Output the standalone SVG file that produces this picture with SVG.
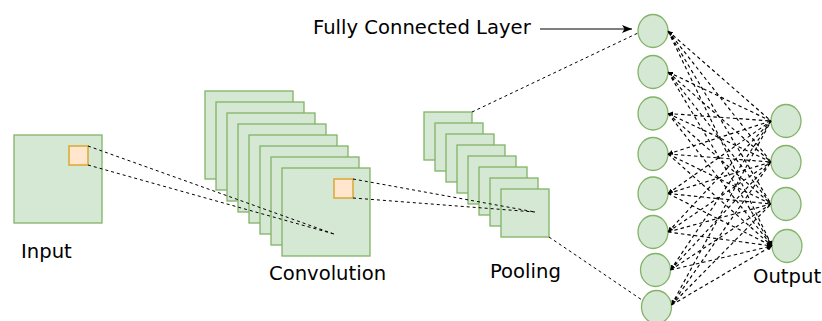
<svg xmlns="http://www.w3.org/2000/svg" width="822" height="321" viewBox="0 0 822 321">
<style>
.g{fill:#d5e8d4;stroke:#82b366;stroke-width:1.3}
.o{fill:#ffe6cc;stroke:#dca634;stroke-width:1.5}
.t{font-family:"DejaVu Sans",Verdana,sans-serif;font-size:19.6px;fill:#000}
.d{stroke:#000;stroke-width:1;stroke-dasharray:3 3;fill:none}
.e{stroke:#000;stroke-width:1.15;stroke-dasharray:3.5 3;fill:none;marker-start:url(#s);marker-end:url(#s)}
</style>
<defs>
<marker id="s" viewBox="0 0 6 6" refX="6" refY="3" markerWidth="5" markerHeight="5" orient="auto-start-reverse" markerUnits="userSpaceOnUse"><path d="M0,0L6,3L0,6z" fill="#000"/></marker>
<marker id="a" viewBox="0 0 10 8" refX="10" refY="4" markerWidth="10" markerHeight="8" orient="auto" markerUnits="userSpaceOnUse"><path d="M0,0L10,4L0,8L2.5,4z" fill="#000"/></marker>
</defs>
<g id="input"><rect class="g" x="14" y="135" width="88" height="88"/><rect class="o" x="69" y="146" width="19" height="19"/></g>
<g id="conv">
<rect class="g" x="205" y="91" width="88" height="88"/>
<rect class="g" x="216" y="102" width="88" height="88"/>
<rect class="g" x="227" y="113" width="88" height="88"/>
<rect class="g" x="238" y="124" width="88" height="88"/>
<rect class="g" x="249" y="135" width="88" height="88"/>
<rect class="g" x="260" y="146" width="88" height="88"/>
<rect class="g" x="271" y="157" width="88" height="88"/>
<rect class="g" x="282" y="168" width="88" height="88"/>
<rect class="o" x="334" y="179" width="19" height="19"/>
</g>
<g id="pool">
<rect class="g" x="424" y="112" width="48" height="48"/>
<rect class="g" x="435" y="123" width="48" height="48"/>
<rect class="g" x="446" y="134" width="48" height="48"/>
<rect class="g" x="457" y="145" width="48" height="48"/>
<rect class="g" x="468" y="156" width="48" height="48"/>
<rect class="g" x="479" y="167" width="48" height="48"/>
<rect class="g" x="490" y="178" width="48" height="48"/>
<rect class="g" x="501" y="189" width="48" height="48"/>
</g>
<g id="fc">
<ellipse class="g" cx="653" cy="31" rx="15" ry="16.5"/>
<ellipse class="g" cx="653" cy="72" rx="15" ry="16.5"/>
<ellipse class="g" cx="653" cy="113.5" rx="15" ry="16.5"/>
<ellipse class="g" cx="653" cy="154" rx="15" ry="16.5"/>
<ellipse class="g" cx="653" cy="193.5" rx="15" ry="16.5"/>
<ellipse class="g" cx="653" cy="232" rx="15" ry="16.5"/>
<ellipse class="g" cx="655.5" cy="270" rx="15" ry="16.5"/>
<ellipse class="g" cx="656.5" cy="307" rx="15" ry="16.5"/>
</g>
<g id="out">
<ellipse class="g" cx="786" cy="121" rx="15" ry="16.5"/>
<ellipse class="g" cx="786" cy="162" rx="15" ry="16.5"/>
<ellipse class="g" cx="786" cy="204" rx="15" ry="16.5"/>
<ellipse class="g" cx="787" cy="246" rx="15" ry="16.5"/>
</g>
<g id="labels">
<text class="t" x="21" y="258">Input</text>
<text class="t" x="269" y="280">Convolution</text>
<text class="t" x="490" y="278">Pooling</text>
<text class="t" x="753" y="283">Output</text>
<text class="t" x="313" y="34">Fully Connected Layer</text>
</g>
<g id="connectors">
<line class="d" x1="88" y1="146" x2="334" y2="234"/>
<line class="d" x1="88" y1="165" x2="334" y2="234"/>
<line class="d" x1="353" y1="179" x2="535" y2="212"/>
<line class="d" x1="353" y1="198" x2="535" y2="212"/>
<line class="d" x1="472" y1="112" x2="638" y2="33"/>
<line class="d" x1="549" y1="237" x2="642" y2="300"/>
<line x1="540" y1="29" x2="632" y2="29" stroke="#000" stroke-width="1.2" marker-end="url(#a)"/>
<path class="e" d="M668,31L771,121M668,31L771,162M668,31L771,204M668,31L772,246"/>
<path class="e" d="M668,72L771,121M668,72L771,162M668,72L771,204M668,72L772,246"/>
<path class="e" d="M668,113.5L771,121M668,113.5L771,162M668,113.5L771,204M668,113.5L772,246"/>
<path class="e" d="M668,154L771,121M668,154L771,162M668,154L771,204M668,154L772,246"/>
<path class="e" d="M668,193.5L771,121M668,193.5L771,162M668,193.5L771,204M668,193.5L772,246"/>
<path class="e" d="M668,232L771,121M668,232L771,162M668,232L771,204M668,232L772,246"/>
<path class="e" d="M670.5,270L771,121M670.5,270L771,162M670.5,270L771,204M670.5,270L772,246"/>
<path class="e" d="M671.5,305L771,121M671.5,305L771,162M671.5,305L771,204M671.5,305L772,246"/>
</g>
</svg>
